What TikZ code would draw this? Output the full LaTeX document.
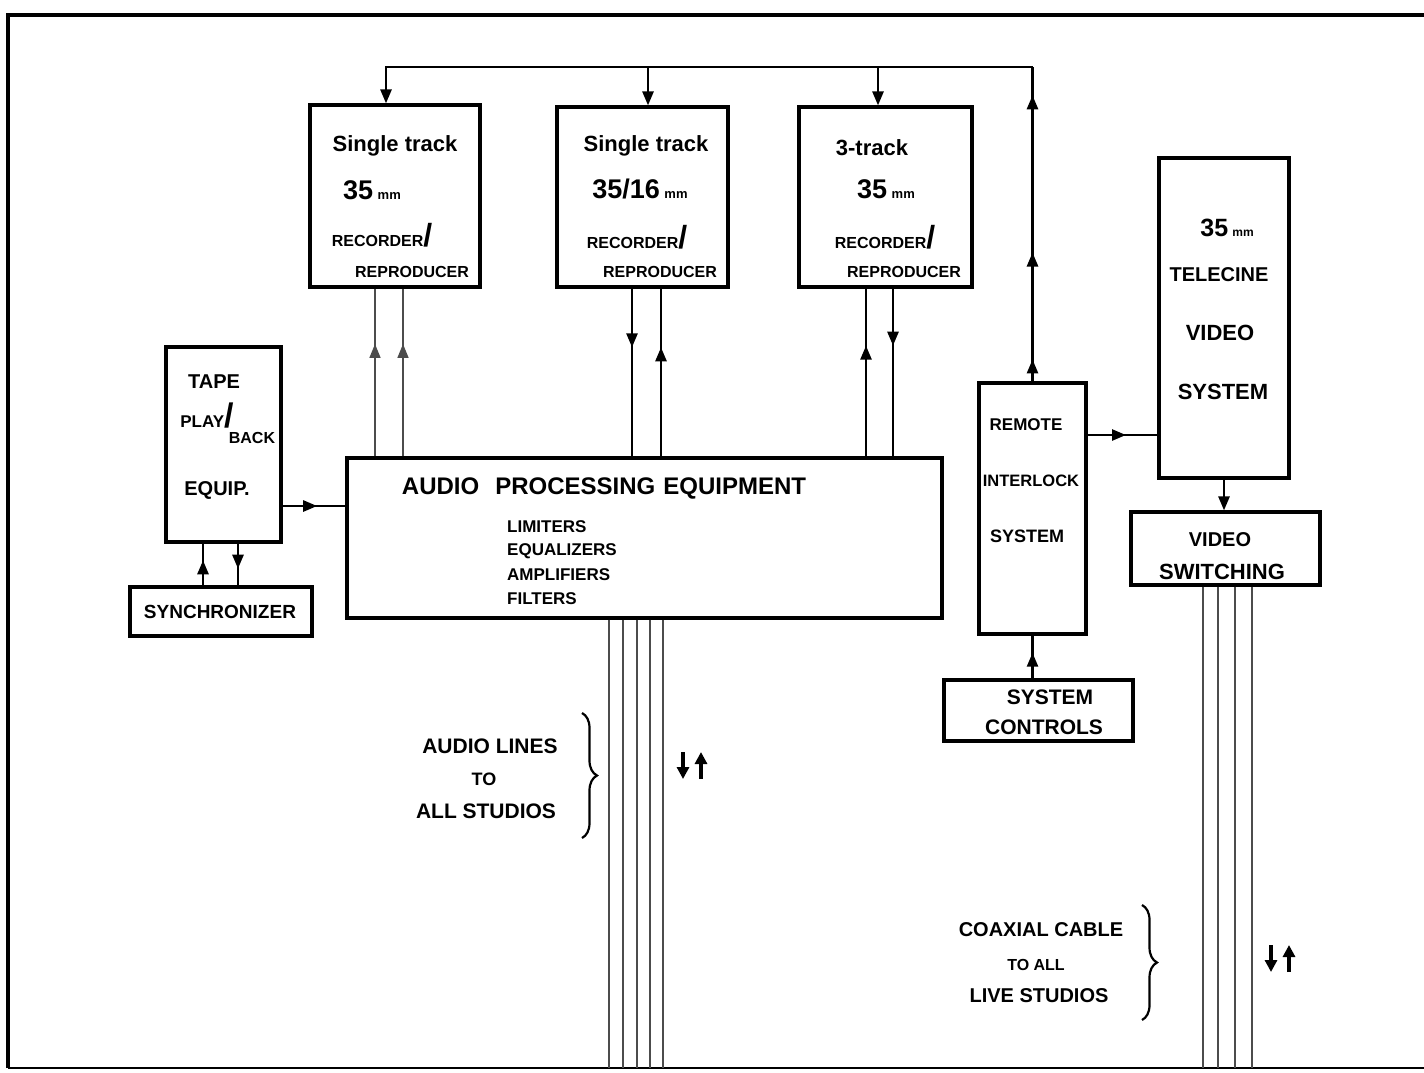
\documentclass[tikz,border=0pt]{standalone}
\usepackage{fontspec}
\setmainfont{Liberation Sans}
\newfontfamily\symfont{DejaVu Sans}
\usetikzlibrary{arrows.meta,decorations.markings,decorations.pathreplacing}
\newcommand{\fs}[1]{\fontsize{#1}{#1}\selectfont}
\begin{document}
\begin{tikzpicture}[x=1pt,y=-1pt,
  box/.style={draw, line width=3.2pt, inner sep=0pt},
  lbl/.style={inner sep=0pt, font=\bfseries},
  conn/.style={line width=2.6pt},
  thin/.style={line width=1.6pt, black!70},
  tip/.style={-{Triangle[width=11pt,length=14pt]}},
  midarrow/.style={postaction=decorate, decoration={markings, mark=at position #1 with {\arrow{Triangle[width=11pt,length=14pt]}}}},
  brc/.style={line width=2.2pt, decorate, decoration={brace, amplitude=15pt}},
  updn/.style={line width=3.6pt, -{Triangle[width=12pt,length=12pt]}},
]
\fill[white] (0,0) rectangle (1424,1072);
\useasboundingbox (0,0) rectangle (1424,1072);
% frame
\draw[line width=3.8pt] (8,1068) -- (8,15) -- (1424,15);
\draw[line width=2.8pt] (8,1068) -- (1424,1068);

% boxes
\node[box, minimum width=170, minimum height=182] (R1) at (395,196) {};
\node[box, minimum width=171, minimum height=180] (R2) at (642.5,197) {};
\node[box, minimum width=173, minimum height=180] (R3) at (885.5,197) {};
\node[box, minimum width=130, minimum height=320] (TC) at (1224,318) {};
\node[box, minimum width=115, minimum height=195] (TP) at (223.5,444.5) {};
\node[box, minimum width=182, minimum height=49] (SY) at (221,611.5) {};
\node[box, minimum width=595, minimum height=160] (AP) at (644.5,538) {};
\node[box, minimum width=107, minimum height=251] (RI) at (1032.5,508.5) {};
\node[box, minimum width=189, minimum height=73] (VS) at (1225.5,548.5) {};
\node[box, minimum width=189, minimum height=61] (SC) at (1038.5,710.5) {};

% recorder texts
\node[lbl] (r1a) at (395,146) {\fs{22}Single track};
\node[lbl] (r1b) at (372,190) {\fs{27}35\,\fs{13}mm};
\node[lbl] (r1c) at (382,235) {\fs{16}RECORDER\fs{32}/};
\node[lbl] (r1d) at (412,272) {\fs{16}REPRODUCER};
\node[lbl] (r2a) at (646,146) {\fs{22}Single track};
\node[lbl] (r2b) at (640,189) {\fs{27}35/16\,\fs{13}mm};
\node[lbl] (r2c) at (637,237) {\fs{16}RECORDER\fs{32}/};
\node[lbl] (r2d) at (660,272) {\fs{16}REPRODUCER};
\node[lbl] (r3a) at (872,148) {\fs{22}3-track};
\node[lbl] (r3b) at (886,189) {\fs{27}35\,\fs{13}mm};
\node[lbl] (r3c) at (885,237) {\fs{16}RECORDER\fs{32}/};
\node[lbl] (r3d) at (904,272) {\fs{16}REPRODUCER};

% telecine
\node[lbl] (t1) at (1227,228) {\fs{25}35\,\fs{12}mm};
\node[lbl] (t2) at (1219,275) {\fs{20}TELECINE};
\node[lbl] (t3) at (1220,333) {\fs{22}VIDEO};
\node[lbl] (t4) at (1223,392) {\fs{22}SYSTEM};

% remote interlock
\node[lbl] (i1) at (1026,425) {\fs{17}REMOTE};
\node[lbl] (i2) at (1031,481) {\fs{16.5}INTERLOCK};
\node[lbl] (i3) at (1027,536) {\fs{18}SYSTEM};

% video switching
\node[lbl] (v1) at (1220,540) {\fs{20}VIDEO};
\node[lbl] (v2) at (1222,572) {\fs{22}SWITCHING};

% system controls
\node[lbl] (s1) at (1050,697) {\fs{21}SYSTEM};
\node[lbl] (s2) at (1044,727) {\fs{21}CONTROLS};

% tape
\node[lbl] (p1) at (214,382) {\fs{20}TAPE};
\node[lbl] (p2) at (207,416) {\fs{17}PLAY\fs{34}/};
\node[lbl] (p3) at (252,438) {\fs{16}BACK};
\node[lbl] (p4) at (217,490) {\fs{20}EQUIP.};
\node[lbl] (sy) at (220,612) {\fs{19}SYNCHRONIZER};

% audio processing
\node[lbl] (a0) at (604,488) {\fs{24}AUDIO\hspace{16pt}PROCESSING\hspace{8pt}EQUIPMENT};
\node[lbl, anchor=west] (a1) at (507,527) {\fs{17}LIMITERS};
\node[lbl, anchor=west] (a2) at (507,551) {\fs{17}EQUALIZERS};
\node[lbl, anchor=west] (a3) at (507,575) {\fs{17}AMPLIFIERS};
\node[lbl, anchor=west] (a4) at (507,599) {\fs{17}FILTERS};

% audio lines label
\node[lbl] (al1) at (490,746) {\fs{21}AUDIO LINES};
\node[lbl] (al2) at (484,779) {\fs{18}TO};
\node[lbl] (al3) at (486,811) {\fs{21}ALL STUDIOS};
\draw[brc] (582,713) coordinate (b1t) -- (582,838) coordinate (b1b);
\coordinate (ud1a) at (683,752); \coordinate (ud1b) at (683,779);
\coordinate (ud1c) at (701,779); \coordinate (ud1d) at (701,752);
\draw[updn] (ud1a) -- (ud1b);
\draw[updn] (ud1c) -- (ud1d);

% coax label
\node[lbl] (c1) at (1041,930) {\fs{20}COAXIAL CABLE};
\node[lbl] (c2) at (1036,965) {\fs{16}TO ALL};
\node[lbl] (c3) at (1039,996) {\fs{20}LIVE STUDIOS};
\draw[brc] (1142,905) coordinate (b2t) -- (1142,1020) coordinate (b2b);
\coordinate (ud2a) at (1271,945); \coordinate (ud2b) at (1271,972);
\coordinate (ud2c) at (1289,972); \coordinate (ud2d) at (1289,945);
\draw[updn] (ud2a) -- (ud2b);
\draw[updn] (ud2c) -- (ud2d);

% bus
\coordinate (busR) at (RI.north |- 0,67);
\draw[conn, postaction=decorate, decoration={markings,
   mark=at position 0.07 with {\arrow{Triangle[width=11pt,length=14pt]}},
   mark=at position 0.41 with {\arrow{Triangle[width=11pt,length=14pt]}},
   mark=at position 0.91 with {\arrow{Triangle[width=11pt,length=14pt]}}}]
   (RI.north) -- (busR);
\path ([xshift=-9]R1.north) coordinate (r1in);
\path ([xshift=5.5]R2.north) coordinate (r2in);
\path ([xshift=-7.5]R3.north) coordinate (r3in);
\draw[conn, tip] (busR) -| (r1in);
\draw[conn, tip] (r2in |- busR) -- (r2in);
\draw[conn, tip] (r3in |- busR) -- (r3in);

% recorders <-> audio processing
\path ([xshift=-20]R1.south) coordinate (q1) ([xshift=8]R1.south) coordinate (q2);
\draw[thin, midarrow=0.67] (q1 |- AP.north) -- (q1);
\draw[thin, midarrow=0.67] (q2 |- AP.north) -- (q2);
\path ([xshift=-10.5]R2.south) coordinate (q3) ([xshift=18.5]R2.south) coordinate (q4);
\draw[conn, midarrow=0.35] (q3) -- (q3 |- AP.north);
\draw[conn, midarrow=0.65] (q4 |- AP.north) -- (q4);
\path ([xshift=-19.5]R3.south) coordinate (q5) ([xshift=7.5]R3.south) coordinate (q6);
\draw[conn, midarrow=0.66] (q5 |- AP.north) -- (q5);
\draw[conn, midarrow=0.34] (q6) -- (q6 |- AP.north);

% tape -> audio
\path ([yshift=-61.5]TP.east) coordinate (tpo);
\draw[conn, midarrow=0.55] (tpo) -- (tpo -| AP.west);
% tape <-> synchronizer
\path ([xshift=-20.5]TP.south) coordinate (ts1) ([xshift=14.5]TP.south) coordinate (ts2);
\draw[conn, midarrow=0.6] (ts1 |- SY.north) -- (ts1);
\draw[conn, midarrow=0.6] (ts2) -- (ts2 |- SY.north);

% remote -> telecine
\path ([yshift=73.5]RI.east) coordinate (rio);
\draw[conn, midarrow=0.55] (rio) -- (rio -| TC.west);
% telecine -> video switching
\draw[conn, tip] (TC.south) -- (TC.south |- VS.north);
% system controls -> remote
\draw[conn, midarrow=0.6] (SC.north -| RI.south) -- (RI.south);

% audio lines to studios
\foreach \s [count=\i] in {-35.5,-21.5,-7.5,5.5,18.5} {
  \path ([xshift=\s]AP.south) coordinate (aln\i);
  \draw[thin] (aln\i) -- (aln\i |- 0,1068);
}
% coax lines
\foreach \s [count=\i] in {-22.5,-7.5,9.5,26.5} {
  \path ([xshift=\s]VS.south) coordinate (cxn\i);
  \draw[thin] (cxn\i) -- (cxn\i |- 0,1068);
}
\end{tikzpicture}
\end{document}
